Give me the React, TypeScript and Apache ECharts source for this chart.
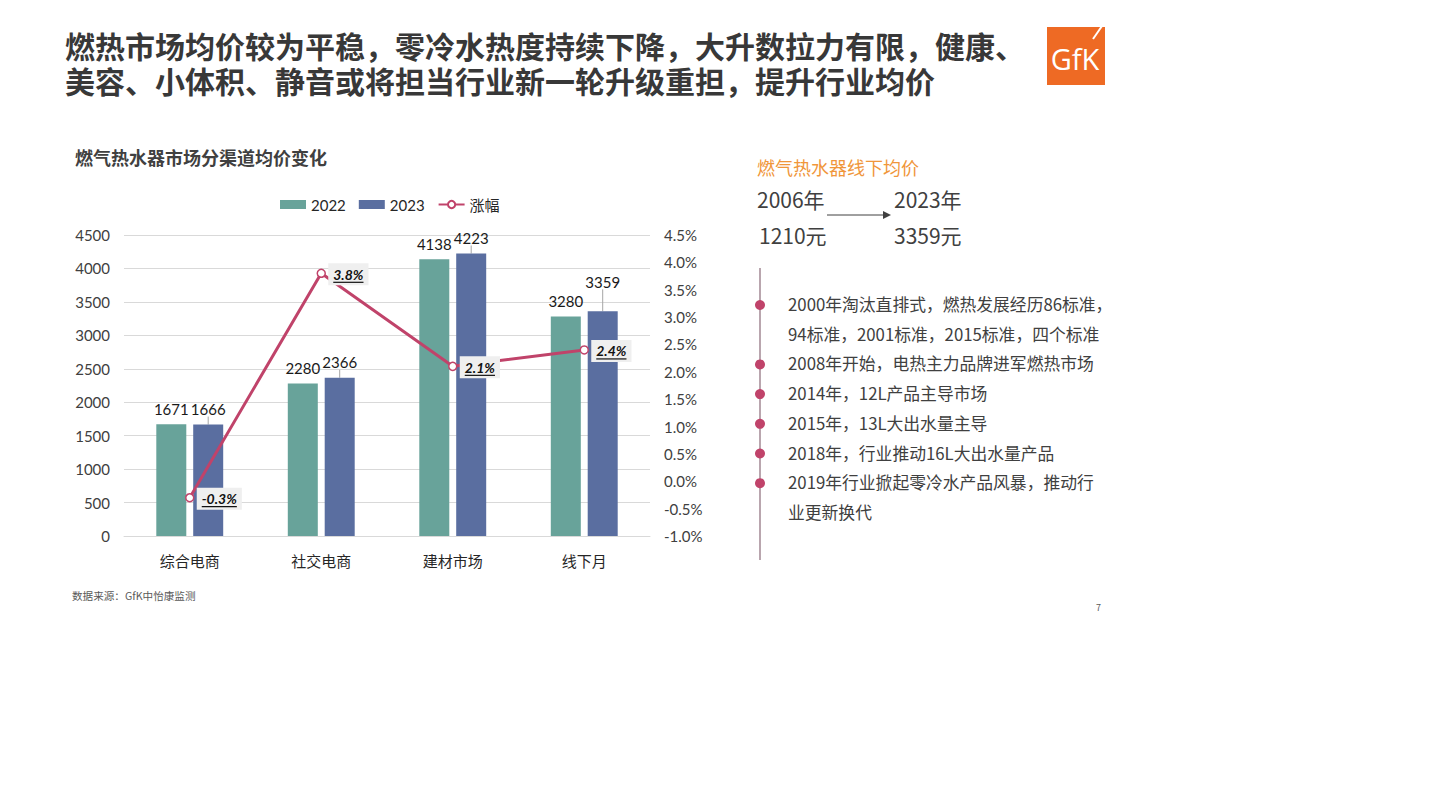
import React, { useEffect, useRef } from "react";
import * as echarts from "echarts";

const categories = ["综合电商", "社交电商", "建材市场", "线下月"];
const price2022 = [1671, 2280, 4138, 3280];
const price2023 = [1666, 2366, 4223, 3359];
const growth = [-0.3, 3.8, 2.1, 2.4];
const seriesNames = ["2022", "2023", "涨幅"];

const mainTitle = [
  "燃热市场均价较为平稳，零冷水热度持续下降，大升数拉力有限，健康、",
  "美容、小体积、静音或将担当行业新一轮升级重担，提升行业均价",
];
const chartTitle = "燃气热水器市场分渠道均价变化";
const sideTitle = "燃气热水器线下均价";
const fromYear = "2006年";
const fromPrice = "1210元";
const toYear = "2023年";
const toPrice = "3359元";
const timelineItems = [
  ["2000年淘汰直排式，燃热发展经历86标准，", "94标准，2001标准，2015标准，四个标准"],
  ["2008年开始，电热主力品牌进军燃热市场"],
  ["2014年，12L产品主导市场"],
  ["2015年，13L大出水量主导"],
  ["2018年，行业推动16L大出水量产品"],
  ["2019年行业掀起零冷水产品风暴，推动行", "业更新换代"],
];
const sourceText = "数据来源：GfK中怡康监测";
const pageNo = "7";

const GREEN = "#68a39a";
const BLUE = "#5a6ea0";
const RED = "#c0436a";
const TXT = "#404040";
const NUMFONT = "Lato, 'Noto Sans CJK SC', sans-serif";
const CJK = "'Noto Sans CJK SC', sans-serif";
const LABEL_FONT = "italic bold 14px Lato, sans-serif";

function measure(text: string, font: string): number {
  const c = document.createElement("canvas").getContext("2d");
  if (!c) return text.length * 8;
  c.font = font;
  return c.measureText(text).width;
}

export default function App() {
  const ref = useRef<HTMLDivElement>(null);
  useEffect(() => {
    if (!ref.current) return;
    const chart = echarts.init(ref.current, null, { renderer: "svg" });

    const graphics: any[] = [];
    graphics.push({
      type: "text",
      x: 65,
      y: 27.5,
      style: {
        text: mainTitle.join("\n"),
        font: `bold 30px ${CJK}`,
        lineHeight: 35,
        fill: "#383838",
        verticalAlign: "top",
      },
    });
    // logo
    graphics.push({ type: "rect", shape: { x: 1047, y: 27, width: 58, height: 58 }, style: { fill: "#ee6a24" } });
    graphics.push({
      type: "text",
      x: 1075,
      y: 58,
      style: { text: "GfK", font: "29px 'Open Sans', sans-serif", fill: "#fff", align: "center", verticalAlign: "middle" },
    });
    graphics.push({ type: "line", shape: { x1: 1093, y1: 39, x2: 1102, y2: 26 }, style: { stroke: "#fff", lineWidth: 2 } });

    graphics.push({
      type: "text",
      x: 75,
      y: 157,
      style: { text: chartTitle, font: `bold 18px ${CJK}`, fill: "#404040", verticalAlign: "middle" },
    });
    // right panel
    graphics.push({ type: "text", x: 757, y: 167, style: { text: sideTitle, font: `18px ${CJK}`, fill: "#f0963a", verticalAlign: "middle" } });
    graphics.push({ type: "text", x: 757, y: 199, style: { text: fromYear, font: `21px ${CJK}`, fill: TXT, verticalAlign: "middle" } });
    graphics.push({ type: "text", x: 759, y: 235, style: { text: fromPrice, font: `21px ${CJK}`, fill: TXT, verticalAlign: "middle" } });
    graphics.push({ type: "text", x: 894, y: 199, style: { text: toYear, font: `21px ${CJK}`, fill: TXT, verticalAlign: "middle" } });
    graphics.push({ type: "text", x: 894, y: 235, style: { text: toPrice, font: `21px ${CJK}`, fill: TXT, verticalAlign: "middle" } });
    graphics.push({ type: "line", shape: { x1: 827, y1: 215, x2: 884, y2: 215 }, style: { stroke: TXT, lineWidth: 1 } });
    graphics.push({ type: "polygon", shape: { points: [[883, 211], [891, 215], [883, 219]] }, style: { fill: TXT } });

    graphics.push({ type: "line", shape: { x1: 760, y1: 268, x2: 760, y2: 560 }, style: { stroke: "#8a6a78", lineWidth: 1.2 } });
    let line = 0;
    const step = 29.7;
    timelineItems.forEach((item) => {
      const y0 = 305 + line * step;
      graphics.push({ type: "circle", shape: { cx: 760, cy: y0, r: 5 }, style: { fill: RED } });
      item.forEach((t, j) => {
        graphics.push({
          type: "text",
          x: 788,
          y: 304 + (line + j) * step,
          style: { text: t, font: `16.8px ${CJK}`, fill: TXT, verticalAlign: "middle" },
        });
      });
      line += item.length;
    });
    graphics.push({ type: "text", x: 72, y: 595, style: { text: sourceText, font: `10.6px ${CJK}`, fill: "#595959", verticalAlign: "middle" } });
    graphics.push({ type: "text", x: 1096, y: 607, style: { text: pageNo, font: `9px ${CJK}`, fill: "#595959", verticalAlign: "middle" } });

    chart.setOption({
      animation: false,
      backgroundColor: "#fff",
      textStyle: { fontFamily: NUMFONT },
      graphic: graphics,
      legend: {
        left: 275,
        top: 192,
        itemWidth: 26,
        itemHeight: 9,
        itemGap: 13,
        textStyle: { fontSize: 15, color: "#262626", fontFamily: NUMFONT },
        data: [
          { name: seriesNames[0], icon: "rect" },
          { name: seriesNames[1], icon: "rect" },
          { name: seriesNames[2] },
        ],
      },
      grid: { left: 124, right: 1441 - 650, top: 235, bottom: 810 - 536 },
      xAxis: {
        type: "category",
        data: categories,
        axisTick: { show: false },
        axisLine: { lineStyle: { color: "#d9d9d9" } },
        axisLabel: { color: "#262626", fontSize: 15, margin: 17, fontFamily: CJK },
      },
      yAxis: [
        {
          type: "value",
          min: 0,
          max: 4500,
          interval: 500,
          axisLabel: { color: TXT, fontSize: 15, margin: 14, formatter: (v: number) => String(v) },
          splitLine: { lineStyle: { color: "#d9d9d9" } },
        },
        {
          type: "value",
          min: -1,
          max: 4.5,
          interval: 0.5,
          splitLine: { show: false },
          axisLabel: { color: TXT, fontSize: 15, margin: 14, formatter: (v: number) => v.toFixed(1) + "%" },
        },
      ],
      series: [
        {
          name: seriesNames[0],
          type: "bar",
          data: price2022,
          barWidth: 30,
          barGap: "23%",
          itemStyle: { color: GREEN },
          label: { show: true, position: "top", distance: 8, fontSize: 15, color: "#1a1a1a" },
        },
        {
          name: seriesNames[1],
          type: "bar",
          data: price2023,
          barWidth: 30,
          itemStyle: { color: BLUE },
          label: { show: true, position: "top", distance: 8, fontSize: 15, color: "#1a1a1a" },
          labelLine: { show: true, lineStyle: { color: "#a6a6a6", width: 1 } },
          labelLayout: (p: any) => (p.dataIndex === 3 ? { dy: -14 } : {}),
        },
        {
          name: seriesNames[2],
          type: "line",
          yAxisIndex: 1,
          data: growth,
          z: 5,
          symbol: "circle",
          symbolSize: 8,
          lineStyle: { color: RED, width: 3 },
          itemStyle: { color: "#fff", borderColor: RED, borderWidth: 1.5 },
        },
        {
          name: "growthLabels",
          type: "custom",
          yAxisIndex: 1,
          z: 10,
          data: growth.map((g, i) => [i, g]),
          encode: { x: 0, y: 1 },
          renderItem: (params: any, api: any) => {
            const pt = api.coord([api.value(0), api.value(1)]);
            const text = api.value(1).toFixed(1) + "%";
            const w = measure(text, LABEL_FONT);
            const x = pt[0] + 12;
            const y = pt[1] + 1;
            return {
              type: "group",
              children: [
                {
                  type: "rect",
                  shape: { x: x - 5, y: y - 11, width: w + 10, height: 22 },
                  style: { fill: "#efefef" },
                },
                {
                  type: "text",
                  x,
                  y,
                  style: { text, font: LABEL_FONT, fill: "#111", verticalAlign: "middle", align: "left" },
                },
                {
                  type: "line",
                  shape: { x1: x, y1: y + 8, x2: x + w, y2: y + 8 },
                  style: { stroke: "#111", lineWidth: 1.2 },
                },
              ],
            };
          },
        },
      ],
    });
    return () => chart.dispose();
  }, []);
  return <div ref={ref} style={{ position: "fixed", left: 0, top: 0, width: 1441, height: 810 }} />;
}
